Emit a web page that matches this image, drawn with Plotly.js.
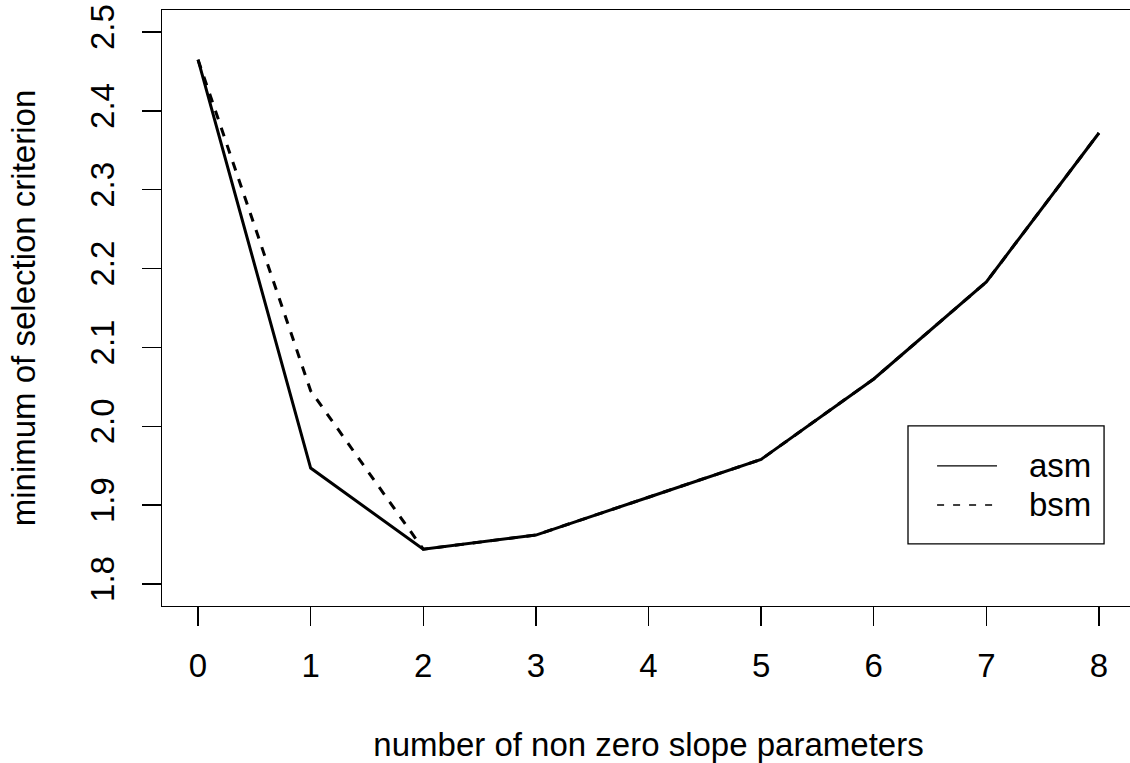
<!DOCTYPE html>
<html>
<head>
<meta charset="utf-8">
<script src="https://cdn.plot.ly/plotly-3.0.1.min.js"></script>
<style>
  html, body { margin: 0; padding: 0; overflow: hidden; background: #fff; }
  #chart { width: 1136px; height: 763px; }
</style>
</head>
<body>
<div id="chart"></div>
<script>
// ---- data ----
const slopeCounts = [0, 1, 2, 3, 4, 5, 6, 7, 8];
const asmValues = [2.465, 1.947, 1.844, 1.862, 1.910, 1.958, 2.060, 2.183, 2.372];
const bsmValues = [2.465, 2.045, 1.844, 1.862, 1.910, 1.958, 2.060, 2.183, 2.372];
const seriesNames = ["asm", "bsm"];
const xTicks = [0, 1, 2, 3, 4, 5, 6, 7, 8];
const yTicks = [1.8, 1.9, 2.0, 2.1, 2.2, 2.3, 2.4, 2.5];
const yTickLabels = ["1.8", "1.9", "2.0", "2.1", "2.2", "2.3", "2.4", "2.5"];
const xTitle = "number of non zero slope parameters";
const yTitle = "minimum of selection criterion";

const FONT = "Liberation Sans, Arial, Helvetica, sans-serif";
const FS = 33;

const traces = [
  { x: slopeCounts, y: asmValues, name: seriesNames[0], type: "scatter", mode: "lines",
    line: { color: "#000", width: 3, dash: "solid" }, showlegend: false },
  { x: slopeCounts, y: bsmValues, name: seriesNames[1], type: "scatter", mode: "lines",
    line: { color: "#000", width: 3, dash: "9px,9px" }, showlegend: false }
];

// manual R-style legend (paper coordinates)
const legBox = { x0: 0.7667, x1: 0.9682, y0: 0.1041, y1: 0.3022 };
const legRows = [0.2350, 0.1695];
const legDash = ["solid", "7px,9px"];
const shapes = [
  { type: "rect", xref: "paper", yref: "paper", x0: legBox.x0, x1: legBox.x1, y0: legBox.y0, y1: legBox.y1,
    line: { color: "#000", width: 1.3 }, fillcolor: "#fff", layer: "above" }
];
const annotations = [];
seriesNames.forEach(function (nm, i) {
  shapes.push({ type: "line", xref: "paper", yref: "paper", x0: 0.7966, x1: 0.8582, y0: legRows[i], y1: legRows[i],
    line: { color: "#000", width: 1.3, dash: legDash[i] }, layer: "above" });
  annotations.push({ xref: "paper", yref: "paper", x: 0.8891, y: legRows[i], xanchor: "left", yanchor: "middle",
    text: nm, showarrow: false, font: { family: FONT, size: FS, color: "#000" } });
});

const layout = {
  width: 1136, height: 763,
  margin: { l: 161.6, r: 1, t: 10.3, b: 157 },
  paper_bgcolor: "#fff", plot_bgcolor: "#fff",
  font: { family: FONT, size: FS, color: "#000" },
  showlegend: false,
  xaxis: {
    range: [-0.32, 8.32], tickvals: xTicks, ticktext: xTicks.map(String),
    ticks: "outside", ticklen: 19, tickwidth: 1.3, tickcolor: "#000",
    showgrid: false, zeroline: false, showline: true, linecolor: "#000", linewidth: 1.3, mirror: true,
    tickfont: { family: FONT, size: FS, color: "#000" },
    ticklabelstandoff: 11,
    title: { text: xTitle, font: { family: FONT, size: FS, color: "#000" }, standoff: 50 },
    automargin: false, fixedrange: true
  },
  yaxis: {
    range: [1.772, 2.528], tickvals: yTicks, ticktext: yTickLabels, tickangle: -90,
    ticks: "outside", ticklen: 19, tickwidth: 1.3, tickcolor: "#000",
    showgrid: false, zeroline: false, showline: true, linecolor: "#000", linewidth: 1.3, mirror: true,
    tickfont: { family: FONT, size: FS, color: "#000" },
    ticklabelstandoff: 15,
    title: { text: yTitle, font: { family: FONT, size: FS, color: "#000" }, standoff: 38 },
    automargin: false, fixedrange: true
  },
  shapes: shapes,
  annotations: annotations
};

Plotly.newPlot("chart", traces, layout, { displayModeBar: false, staticPlot: true });
</script>
</body>
</html>
